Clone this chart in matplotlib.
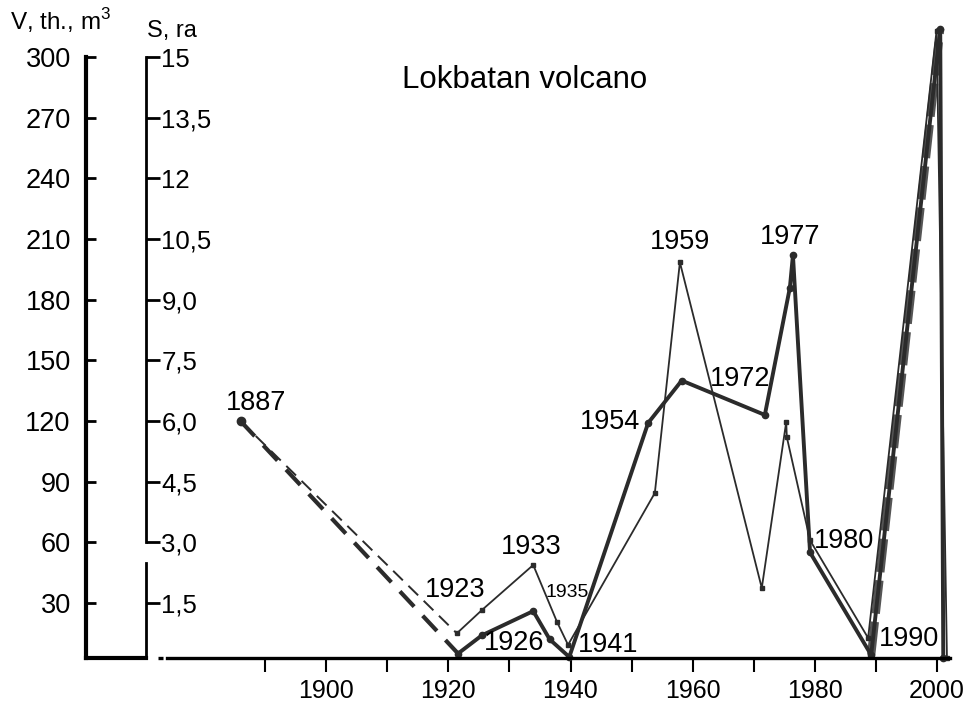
import numpy as np
import matplotlib.pyplot as plt
import matplotlib as mpl
import matplotlib.transforms as mtransforms

mpl.rc('font', family=['Liberation Sans', 'DejaVu Sans'])
mpl.rc('mathtext', fontset='custom', rm='Liberation Sans')

# thick curve (volume)
yr_v  = [1886.0, 1921.6, 1925.5, 1933.9, 1936.6, 1939.8, 1952.7, 1958.2,
         1971.8, 1975.9, 1976.4, 1979.2, 1989.2, 2000.5, 2001.0]
val_v = [120, 5, 14, 26, 12, 3.3, 119, 140, 123, 186, 202, 55, 4.3, 314, 3]

# thin curve (area)
yr_s  = [1886.0, 1921.4, 1925.5, 1933.9, 1937.8, 1939.6, 1953.8, 1957.9,
         1971.3, 1975.3, 1975.4, 1979.2, 1988.7, 1999.9, 2001.6]
val_s = [120, 15, 26.5, 48.8, 20.6, 9.3, 84.4, 198.5, 37.4, 119.5, 112, 61, 12.7, 313, 3]

# the 1887-1923 part is dashed
n_dash = 2

v_ticks  = [30, 60, 90, 120, 150, 180, 210, 240, 270, 300]
s_labels = ['1,5', '3,0', '4,5', '6,0', '7,5', '9,0', '10,5', '12', '13,5', '15']

year_major = [1900, 1920, 1940, 1960, 1980, 2000]
year_minor = [1890, 1910, 1930, 1950, 1970, 1990]

# label text, x, y  (text positions)
notes = [('1887', 1888.5, 129), ('1923', 1921.1, 36.4), ('1933', 1933.5, 57.7),
         ('1926', 1930.8, 10.2), ('1941', 1946.1, 9.2), ('1954', 1946.5, 119.5),
         ('1959', 1957.9, 208.5), ('1972', 1967.7, 140.8), ('1977', 1975.9, 211),
         ('1980', 1984.8, 60.7), ('1990', 1995.4, 12.2)]
small_note = ('1935', 1939.4, 35)

W, H = 964, 707
ylo, yhi = 2.8, 318.3
bot, hgt = 49 / H, (658 - 20) / H

fig = plt.figure(figsize=(W / 100, H / 100), dpi=100)

# ---- main plot
ax = fig.add_axes([158 / W, bot, (950 - 158) / W, hgt])
ax.set_xlim(1872.5, 2002.1)
ax.set_ylim(ylo, yhi)
for s in ['top', 'right', 'left']:
    ax.spines[s].set_visible(False)
ax.spines['bottom'].set_linewidth(2.4)
ax.spines['bottom'].set_bounds(1874.0, 2002.1)
ax.plot([1872.5, 1873.3], [ylo, ylo], color='black', lw=2.4, clip_on=False,
        solid_capstyle='butt')
ax.set_yticks([])
ax.set_xticks(year_major)
ax.set_xticks(year_minor, minor=True)
ax.tick_params(axis='x', which='both', direction='out', length=10, width=1.5, pad=5,
               labelsize=18)

col = '#2b2b2b'
ax.plot(yr_v[:n_dash], val_v[:n_dash], color=col, lw=3.0, ls=(0, (5, 3)), clip_on=False)
ax.plot(yr_s[:n_dash], val_s[:n_dash], color=col, lw=1.4, ls=(0, (7, 4)), clip_on=False)
# rough band of the last rise
ax.plot(yr_v[-3:-1], val_v[-3:-1], color='#555555', lw=6, ls=(0, (4, 1)), clip_on=False)
ax.plot(yr_v[n_dash - 1:], val_v[n_dash - 1:], color=col, lw=2.8, marker='o', ms=4.5,
        clip_on=False)
ax.plot(yr_s[n_dash - 1:], val_s[n_dash - 1:], color=col, lw=1.3, marker='s', ms=3.5,
        clip_on=False)
ax.plot(yr_v[0], val_v[0], 'o', color=col, ms=6, clip_on=False)

for t, x, y in notes:
    ax.text(x, y, t, fontsize=19.5, ha='center', va='center')
ax.text(small_note[1], small_note[2], small_note[0], fontsize=14, ha='center', va='center')

fig.text(525 / W, 1 - 80 / H, 'Lokbatan volcano', fontsize=22.5, ha='center', va='center')

# ---- left scales
axl = fig.add_axes([86 / W, bot, 60 / W, hgt])
axl.set_ylim(ylo, yhi)
axl.set_xlim(0, 1)
axl.patch.set_visible(False)
axl.spines['top'].set_visible(False)
axl.spines['right'].set_visible(False)
axl.spines['left'].set_linewidth(3)
axl.spines['left'].set_bounds(ylo, 300)
axl.spines['bottom'].set_linewidth(3)
axl.set_xticks([])
axl.set_yticks(v_ticks)
axl.tick_params(axis='y', direction='in', length=7, width=2, pad=11, labelsize=19.5)

axs = axl.twinx()
axs.set_ylim(ylo, yhi)
for s in ['top', 'left', 'bottom']:
    axs.spines[s].set_visible(False)
axs.spines['right'].set_linewidth(2)
axs.spines['right'].set_bounds(60, 300)
axs.set_yticks(v_ticks)
axs.set_yticklabels(s_labels)
axs.tick_params(axis='y', direction='out', length=10, width=2, pad=1, labelsize=18.5)
tr = mtransforms.blended_transform_factory(axs.transAxes, axs.transData)
axs.plot([1, 1], [ylo, 49.6], color='black', lw=2, transform=tr, clip_on=False)

fig.text(10 / W, 1 - 21 / H, 'V, th., m$^{\\mathregular{3}}$', fontsize=17.5, ha='left', va='center')
fig.text(147 / W, 1 - 31 / H, 'S, ra', fontsize=17, ha='left', va='center')

plt.savefig('out.png', dpi=100)
